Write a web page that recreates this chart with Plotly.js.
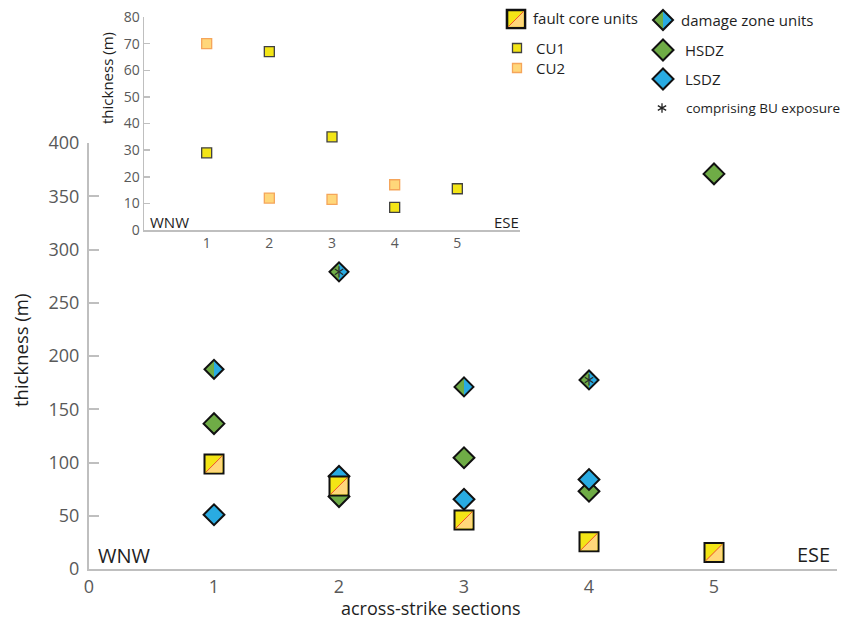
<!DOCTYPE html>
<html><head><meta charset="utf-8">
<script src="https://cdn.plot.ly/plotly-3.0.1.min.js"></script>
<style>html,body{margin:0;padding:0;background:#fff}#chart{width:850px;height:621px}</style>
</head><body><div id="chart"></div>
<script>
// ---- data ----
const sections = [1, 2, 3, 4, 5];
const faultCore = [98.5, 78, 46, 25.5, 15.5];
const hsdz = [136.5, 68, 104.5, 73, 371];
const lsdz = [51, 87, 65.5, 84, null];
const damageZone = [187.5, 279, 171, 177.5, null];
const buExposure = [false, true, false, true, false];
const cu1 = [29, 67, 35, 8.5, 15.5];
const cu2 = [70, 12, 11.5, 17, null];
const mainXTicks = [0, 1, 2, 3, 4, 5];
const insetXTicks = [1, 2, 3, 4, 5];

// ---- layout helpers ----
const W = 850, H = 621, ML = 89, MR = 13, MT = 10, MB = 52;
const PW = W - ML - MR, PH = H - MT - MB;
const px = v => (v - ML) / PW;
const py = v => (H - MB - v) / PH;

const YELLOW = '#F3E516', ORANGE = '#FFD77A', ORANGE_EDGE = '#F5A55A', GREEN = '#6FAC46', BLUE = '#29ABE2', DIAG = '#F0522A';
const FONT = 'Open Sans, sans-serif';
const AXIS = '#BFBFBF', TICKTXT = '#595959', TXT = '#1E1E1E';

function pshape(xref, yref, xa, ya, path, fill, lc, lw, layer) {
  return {type: 'path', xref: xref, yref: yref, xsizemode: 'pixel', ysizemode: 'pixel',
    xanchor: xa, yanchor: ya, path: path, fillcolor: fill || 'rgba(0,0,0,0)',
    line: {color: lc || 'rgba(0,0,0,0)', width: lw || 0}, layer: layer || 'above'};
}
const halfL = r => `M0,${r} L${-r},0 L0,${-r} Z`;
const halfR = r => `M0,${r} L${r},0 L0,${-r} Z`;
const diamond = r => `M0,${r} L${r},0 L0,${-r} L${-r},0 Z`;
const square = r => `M${-r},${-r} L${r},${-r} L${r},${r} L${-r},${r} Z`;
const triBR = r => `M${-r},${-r} L${r},${-r} L${r},${r} Z`;
const diag = r => `M${-r},${-r} L${r},${r}`;
const star = r => `M0,${r} L0,${-r} M${r*0.87},${r*0.5} L${-r*0.87},${-r*0.5} M${r*0.87},${-r*0.5} L${-r*0.87},${r*0.5}`;

const shapes = [];
// damage zone split diamonds (below traces; outline + asterisk come from traces)
sections.forEach((s, i) => {
  if (damageZone[i] == null) return;
  shapes.push(pshape('x', 'y', s, damageZone[i], halfL(9.5), GREEN, null, 0, 'below'));
  shapes.push(pshape('x', 'y', s, damageZone[i], halfR(9.5), BLUE, null, 0, 'below'));
});
// fault core split squares (above the yellow square markers)
sections.forEach((s, i) => {
  if (faultCore[i] == null) return;
  shapes.push(pshape('x', 'y', s, faultCore[i], triBR(8.3), ORANGE, null, 0, 'above'));
  shapes.push(pshape('x', 'y', s, faultCore[i], diag(8.3), null, DIAG, 1, 'above'));
});

// ---- custom legend ----
const legendShapes = [
  pshape('paper', 'paper', px(516), py(19), square(9), YELLOW, '#111', 2.6),
  pshape('paper', 'paper', px(516), py(19), triBR(7.7), ORANGE, null, 0),
  pshape('paper', 'paper', px(516), py(19), diag(7.7), null, DIAG, 1),
  pshape('paper', 'paper', px(517), py(48), square(4.5), YELLOW, '#404040', 1.3),
  pshape('paper', 'paper', px(517), py(68), square(4.5), ORANGE, ORANGE_EDGE, 1.3),
  pshape('paper', 'paper', px(663), py(20), halfL(10), GREEN, null, 0),
  pshape('paper', 'paper', px(663), py(20), halfR(10), BLUE, null, 0),
  pshape('paper', 'paper', px(663), py(20), diamond(10), null, '#111', 2),
  pshape('paper', 'paper', px(663), py(50), diamond(10.5), GREEN, '#111', 2),
  pshape('paper', 'paper', px(663), py(79), diamond(10.5), BLUE, '#111', 2),
  pshape('paper', 'paper', px(662), py(108), star(4.8), null, '#222', 1.3)
];
shapes.push(...legendShapes);

function label(text, x, y, size, xanchor, color, angle) {
  return {text: text, xref: 'paper', yref: 'paper', x: px(x), y: py(y), xanchor: xanchor || 'left',
    yanchor: 'middle', showarrow: false, textangle: angle || 0, font: {family: FONT, size: size, color: color || TXT}};
}
const annotations = [
  label('fault core units', 531, 18, 15),
  label('CU1', 534, 48, 15),
  label('CU2', 534, 68, 15),
  label('damage zone units', 679, 20, 15),
  label('HSDZ', 683, 50, 15),
  label('LSDZ', 683, 79, 15),
  label('comprising BU exposure', 684, 108, 13.5),
  label('WNW', 96, 555, 20),
  label('ESE', 832, 554, 20, 'right'),
  label('WNW', 148, 222, 15),
  label('ESE', 521, 222, 15, 'right'),
  label('across-strike sections', 431, 608, 18, 'center', TXT),
  label('thickness (m)', 20, 351, 18.5, 'center', TXT, -90),
  label('thickness (m)', 107, 78, 15, 'center', TXT, -90)
];

// ---- traces ----
const starX = sections.filter((s, i) => buExposure[i]);
const starY = damageZone.filter((v, i) => buExposure[i]);
const traces = [
  {type: 'scatter', mode: 'markers', name: 'HSDZ', x: sections, y: hsdz, xaxis: 'x', yaxis: 'y',
    marker: {symbol: 'diamond', size: 16, color: GREEN, line: {color: '#111', width: 2}}},
  {type: 'scatter', mode: 'markers', name: 'LSDZ', x: sections, y: lsdz, xaxis: 'x', yaxis: 'y',
    marker: {symbol: 'diamond', size: 16, color: BLUE, line: {color: '#111', width: 2}}},
  {type: 'scatter', mode: 'markers', name: 'damage zone units', x: sections, y: damageZone, xaxis: 'x', yaxis: 'y',
    marker: {symbol: 'diamond-open', size: 14.6, color: '#111', line: {color: '#111', width: 2}}},
  {type: 'scatter', mode: 'markers', name: 'comprising BU exposure', x: starX, y: starY, xaxis: 'x', yaxis: 'y',
    marker: {symbol: 'y-up-open', size: 7, color: '#2a2a2a', line: {color: '#2a2a2a', width: 1.2}}},
  {type: 'scatter', mode: 'markers', name: 'comprising BU exposure', x: starX, y: starY, xaxis: 'x', yaxis: 'y',
    marker: {symbol: 'y-down-open', size: 7, color: '#2a2a2a', line: {color: '#2a2a2a', width: 1.2}}},
  {type: 'scatter', mode: 'markers', name: 'fault core units', x: sections, y: faultCore, xaxis: 'x', yaxis: 'y',
    marker: {symbol: 'square', size: 19, color: YELLOW, line: {color: '#111', width: 2}}},
  {type: 'scatter', mode: 'markers', name: 'CU1', x: sections, y: cu1, xaxis: 'x2', yaxis: 'y2',
    marker: {symbol: 'square', size: 10, color: YELLOW, line: {color: '#404040', width: 1.3}}},
  {type: 'scatter', mode: 'markers', name: 'CU2', x: sections, y: cu2, xaxis: 'x2', yaxis: 'y2',
    marker: {symbol: 'square', size: 10, color: ORANGE, line: {color: ORANGE_EDGE, width: 1.3}}}
];

const layout = {
  width: W, height: H, margin: {l: ML, r: MR, t: MT, b: MB},
  paper_bgcolor: '#fff', plot_bgcolor: 'rgba(0,0,0,0)', showlegend: false,
  font: {family: FONT, color: TICKTXT},
  xaxis: {domain: [0, 1], range: [0, 5.984], anchor: 'y', tickvals: mainXTicks, ticks: '',
    showline: true, linecolor: AXIS, linewidth: 2, showgrid: false, zeroline: false,
    tickfont: {family: FONT, size: 18, color: TICKTXT}},
  yaxis: {domain: [0, 426 / PH], range: [0, 400], anchor: 'x', dtick: 50, ticks: 'inside', ticklen: 10,
    tickwidth: 2, tickcolor: AXIS, showline: true, linecolor: AXIS, linewidth: 2, showgrid: false, zeroline: false,
    ticklabelstandoff: 4,
    tickfont: {family: FONT, size: 18, color: TICKTXT}},
  xaxis2: {domain: [px(144), px(520)], range: [0, 6], anchor: 'y2', tickvals: insetXTicks, ticks: '',
    showline: true, linecolor: AXIS, linewidth: 1.5, showgrid: false, zeroline: false,
    tickfont: {family: FONT, size: 14, color: TICKTXT}},
  yaxis2: {domain: [py(230), py(17)], range: [0, 80], anchor: 'x2', dtick: 10, ticks: 'inside', ticklen: 6,
    tickwidth: 1.5, tickcolor: AXIS, showline: true, linecolor: AXIS, linewidth: 1.5, showgrid: false, zeroline: false,
    tickfont: {family: FONT, size: 14, color: TICKTXT}},
  shapes: shapes,
  annotations: annotations
};

Plotly.newPlot('chart', traces, layout, {displayModeBar: false, staticPlot: true});
</script>
</body></html>
